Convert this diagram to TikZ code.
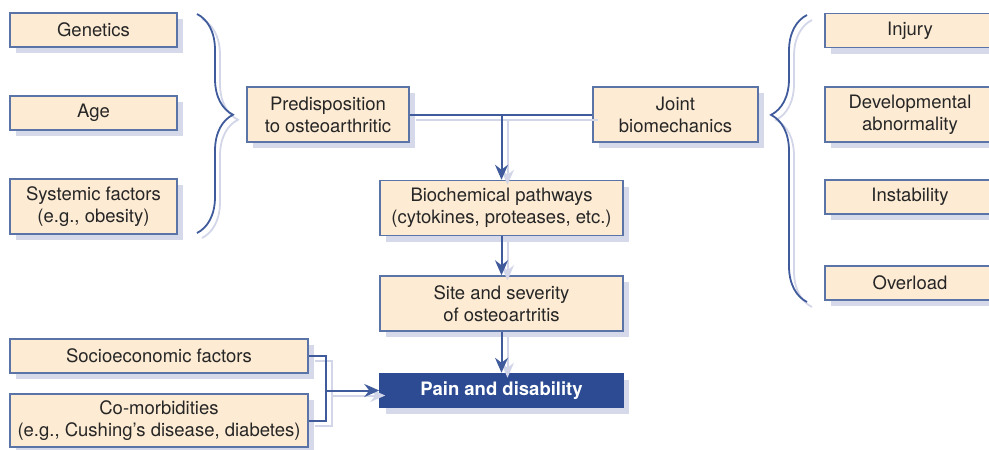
\documentclass[tikz,border=0pt]{standalone}
\usepackage{fontspec}
\setmainfont{TeX Gyre Heros}
\usetikzlibrary{arrows.meta, decorations.pathreplacing, shadows}
\definecolor{boxfill}{HTML}{FDEBD3}
\definecolor{boxline}{HTML}{5B74A8}
\definecolor{boxshade}{HTML}{D6D9E9}
\definecolor{linkblue}{HTML}{3F5B9C}
\definecolor{linkshade}{HTML}{D3D6E8}
\definecolor{painblue}{HTML}{2C4B93}
\definecolor{txt}{HTML}{262626}

\begin{document}
\begin{tikzpicture}[x=1pt,y=-1pt]
% Styles
\tikzset{
  factor/.style={draw=boxline, line width=1.5pt, fill=boxfill, text=txt,
    align=center, inner sep=0pt, font=\fontsize{18.5}{22}\selectfont,
    drop shadow={shadow xshift=6pt, shadow yshift=-6pt, fill=boxshade, opacity=1}},
  one/.style={minimum height=34pt},
  two/.style={minimum height=55pt},
  link/.style={draw=linkblue, line width=2pt,
    preaction={draw=linkshade, line width=2pt, transform canvas={shift={(6pt,-5pt)}}}},
  arrowlink/.style={link, -{Stealth[length=15pt,width=13pt,inset=5pt]}},
  bracket/.style={line width=1.8pt, decorate,
    decoration={brace, amplitude=36pt, aspect=#1}}
}
\useasboundingbox (0,0) rectangle (989,450);
\clip (0,0) rectangle (989,450);

% Left group
\node[factor, one, minimum width=167pt] (genetics) at (93.5,30) {Genetics};
\node[factor, one, minimum width=167pt] (age) at (93.5,113) {Age};
\node[factor, two, minimum width=167pt] (systemic) at (93.5,206.5) {Systemic factors\\(e.g., obesity)};

% Right group
\node[factor, one, minimum width=170pt] (injury) at (910,30.5) {Injury};
\node[factor, two, minimum width=170pt] (develop) at (910,114.5) {Developmental\\abnormality};
\node[factor, one, minimum width=170pt] (instab) at (910,197) {Instability};
\node[factor, one, minimum width=170pt] (overload) at (910,283) {Overload};

% Middle column
\node[factor, two, minimum width=162pt] (predisp) at (328,114.5) {Predisposition\\to osteoarthritic};
\node[factor, two, minimum width=165pt] (joint) at (675.5,114.5) {Joint\\biomechanics};
\node[factor, two, minimum width=243pt] (biochem) at (501.5,208) {Biochemical pathways\\(cytokines, proteases, etc.)};
\node[factor, two, minimum width=243pt] (site) at (501.5,303.5) {Site and severity\\of osteoartritis};
\node[factor, one, minimum width=243pt, fill=painblue, draw=painblue, text=white,
  font=\fontsize{18.5}{22}\selectfont\bfseries] (pain) at (501.5,390.5) {Pain and disability};

% Bottom left
\node[factor, one, minimum width=298pt] (socio) at (159,356) {Socioeconomic factors};
\node[factor, minimum height=53pt, minimum width=298pt] (comorb) at (159,420.5) {Co-morbidities\\(e.g., Cushing's disease, diabetes)};

% Braces
\coordinate (lbtop) at (197,14);
\coordinate (lbbot) at (197,233);
\coordinate (rbbot) at (807,302);
\coordinate (rbtop) at (807,15);
\draw[bracket=0.46, linkshade, transform canvas={shift={(5pt,-5pt)}}] (lbtop) -- (lbbot);
\draw[bracket=0.46, linkblue] (lbtop) -- (lbbot);
\draw[bracket=0.652, linkshade, transform canvas={shift={(5pt,-5pt)}}] (rbbot) -- (rbtop);
\draw[bracket=0.652, linkblue] (rbbot) -- (rbtop);

% Connectors
\draw[link] (predisp.east) -- (joint.west);
\draw[arrowlink] (biochem.north |- predisp.east) -- (biochem.north);
\draw[arrowlink] (biochem.south) -- (biochem.south |- site.north);
\draw[arrowlink] (site.south) -- (site.south |- pain.north);
\coordinate (merge) at ([xshift=-53pt]pain.west);
\draw[link] (socio.east) -| (merge) |- (comorb.east);
\draw[arrowlink] (merge) -- (pain.west);
\end{tikzpicture}
\end{document}
